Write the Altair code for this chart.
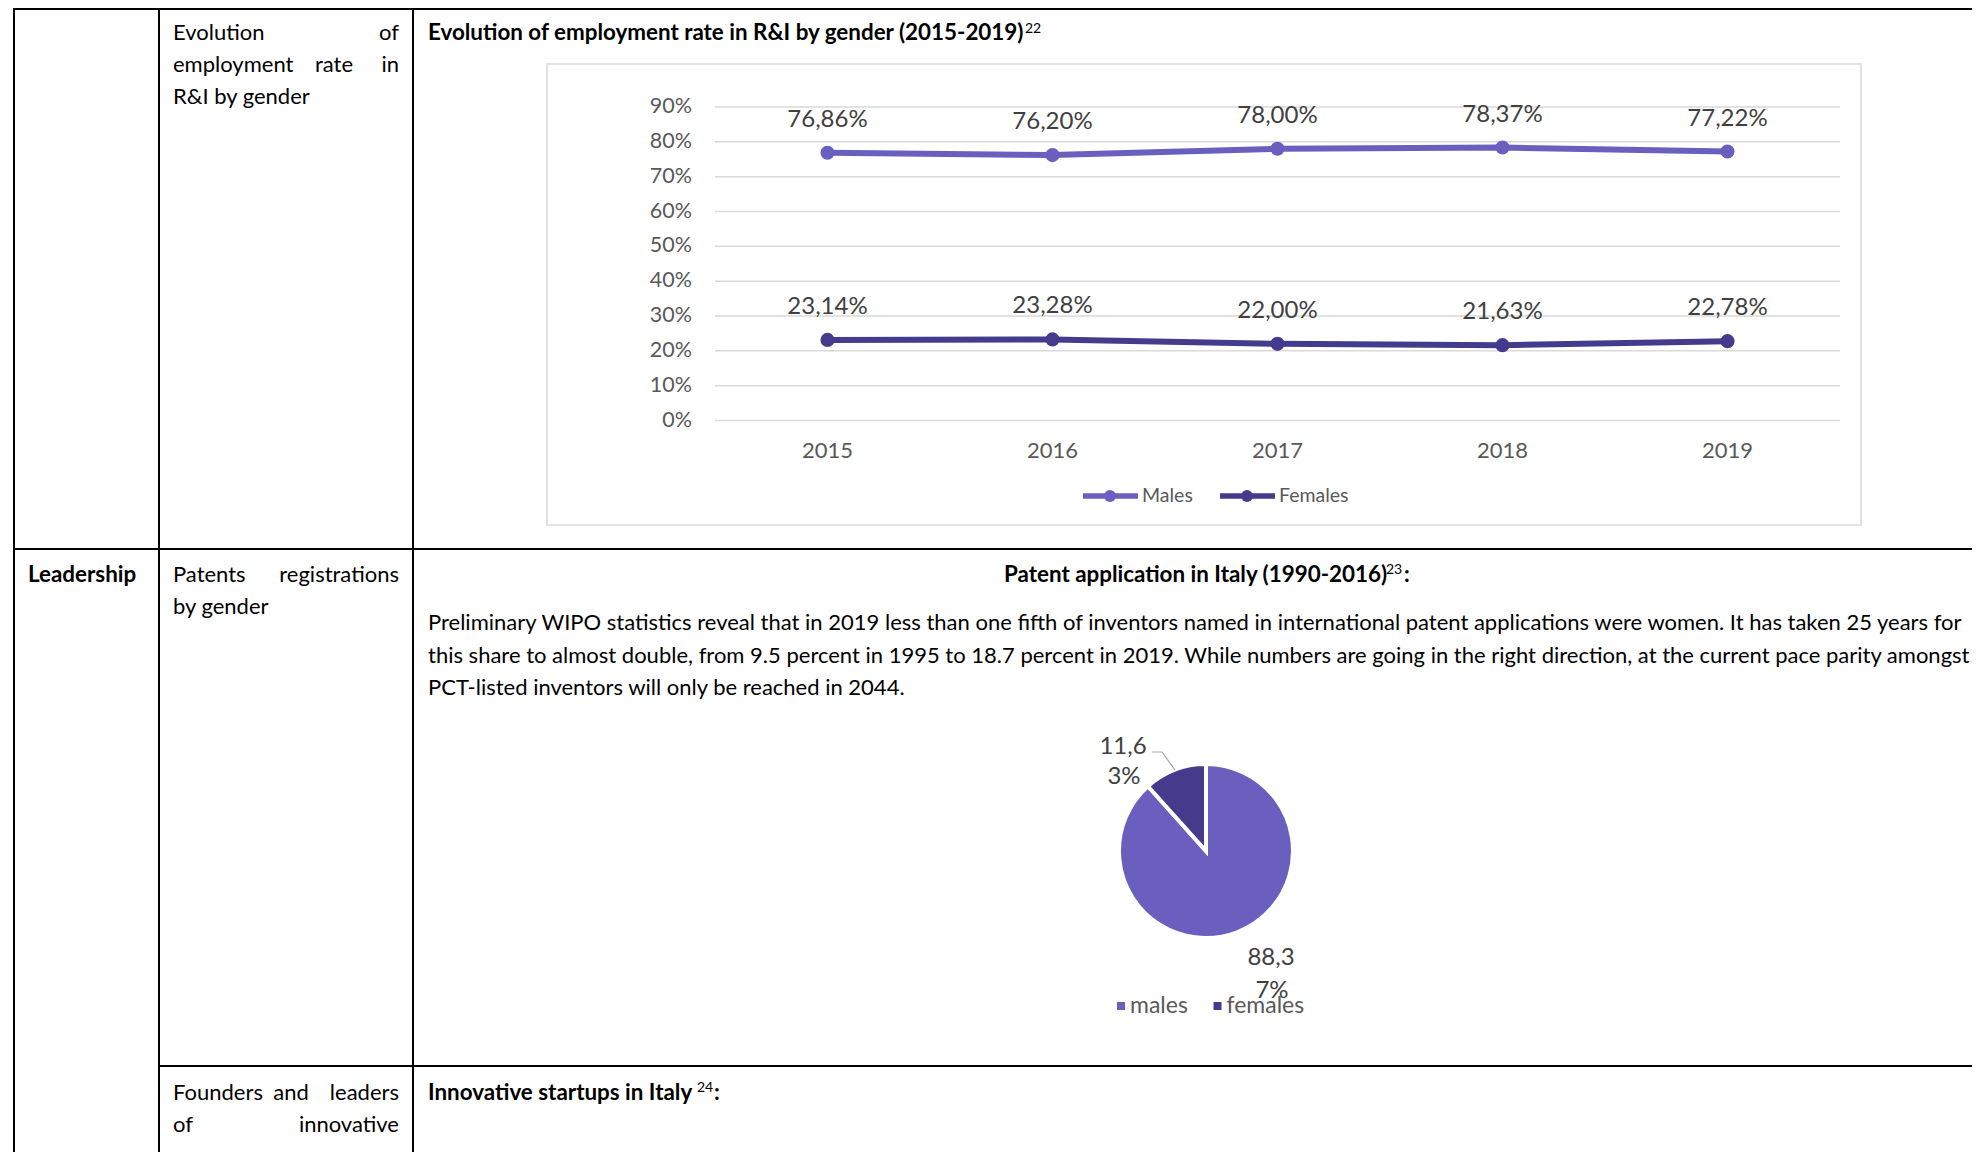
import altair as alt
import pandas as pd

# ---------------- data ----------------
years = ["2015", "2016", "2017", "2018", "2019"]
males = [76.86, 76.20, 78.00, 78.37, 77.22]
females = [23.14, 23.28, 22.00, 21.63, 22.78]
series = ["Males", "Females"]
y_ticks = [0, 10, 20, 30, 40, 50, 60, 70, 80, 90]

pie_cats = ["males", "females"]
pie_vals = [88.37, 11.63]

MALE_C = "#6a5fbf"
FEMALE_C = "#453b8d"
FONT = "Lato"
O = 8  # page margin


def P(v):
    return v - O


def fmt(v):
    return f"{v:.2f}%".replace(".", ",")


rows = []
for s, vals in zip(series, [males, females]):
    for y, v in zip(years, vals):
        rows.append({"year": y, "g": s, "v": v, "lab": fmt(v)})
line_df = pd.DataFrame(rows)
grid_df = pd.DataFrame({"v": y_ticks, "lab": [f"{t}%" for t in y_ticks]})
year_df = pd.DataFrame({"year": years})
pie_df = pd.DataFrame({"g": pie_cats, "val": pie_vals, "o": [0, 1]})

xs = alt.Scale(type="point", domain=years, range=[P(827.5), P(1727.5)], padding=0)
ys = alt.Scale(domain=[0, 90], range=[P(420.5), P(107)], nice=False, zero=True)
cs = alt.Scale(domain=["Males", "Females", "males", "females"],
               range=[MALE_C, FEMALE_C, MALE_C, FEMALE_C])

one = pd.DataFrame({"k": [0]})
layers = []


def hline(y, x1, x2, color="black", w=2):
    return alt.Chart(one).mark_rule(color=color, strokeWidth=w).encode(
        x=alt.value(P(x1)), x2=alt.value(P(x2)), y=alt.value(P(y)))


def vline(x, y1, y2, color="black", w=2):
    return alt.Chart(one).mark_rule(color=color, strokeWidth=w).encode(
        x=alt.value(P(x)), y=alt.value(P(y1)), y2=alt.value(P(y2)))


def txt(s, x, y, size=22, weight="normal", align="left", color="black", baseline="alphabetic"):
    return alt.Chart(one).mark_text(
        text=s, font=FONT, fontSize=size, fontWeight=weight, align=align,
        baseline=baseline, color=color
    ).encode(x=alt.value(P(x)), y=alt.value(P(y)))


# ---------------- table borders ----------------
layers += [
    hline(9, 14, 1990),
    vline(14, 8, 1170),
    vline(159, 8, 1170),
    vline(413, 8, 1170),
    hline(549, 14, 1990),
    hline(1066, 159, 1990),
]

# ---------------- left-column texts ----------------
BODY = 22
BOLD = 22.4
L, R = 173, 399
layers += [
    txt("Evolution", L, 40, BODY),
    txt("of", R, 40, BODY, align="right"),
    txt("employment", L, 72, BODY),
    txt("rate", 334, 72, BODY, align="center"),
    txt("in", R, 72, BODY, align="right"),
    txt("R&I by gender", L, 104, BODY),
    txt("Leadership", 28, 582, BOLD, weight="bold"),
    txt("Patents", L, 582, BODY),
    txt("registrations", R, 582, BODY, align="right"),
    txt("by gender", L, 614, BODY),
    txt("Founders", L, 1100, BODY),
    txt("and", 291, 1100, BODY, align="center"),
    txt("leaders", R, 1100, BODY, align="right"),
    txt("of", L, 1132, BODY),
    txt("innovative", R, 1132, BODY, align="right"),
]

# ---------------- right-column texts ----------------
layers += [
    txt("Evolution of employment rate in R&I by gender (2015-2019)", 428, 40, BOLD, weight="bold"),
    txt("22", 1025, 33, 14),
    txt("Patent application in Italy (1990-2016)", 1004, 582, BOLD, weight="bold"),
    txt("23", 1386, 574, 14),
    txt(":", 1404, 582, BOLD, weight="bold"),
    txt("Preliminary WIPO statistics reveal that in 2019 less than one fifth of inventors named in international patent applications were women. It has taken 25 years for",
        428, 630, BODY),
    txt("this share to almost double, from 9.5 percent in 1995 to 18.7 percent in 2019. While numbers are going in the right direction, at the current pace parity amongst",
        428, 663, BODY),
    txt("PCT-listed inventors will only be reached in 2044.", 428, 695, BODY),
    txt("Innovative startups in Italy", 428, 1100, BOLD, weight="bold"),
    txt("24", 697, 1092, 14),
    txt(":", 714, 1100, BOLD, weight="bold"),
]

# ---------------- line chart ----------------
box = alt.Chart(one).mark_rect(fill="white", stroke="#d9d9d9", strokeWidth=1.5).encode(
    x=alt.value(P(547)), x2=alt.value(P(1861)), y=alt.value(P(64)), y2=alt.value(P(525)))

X = alt.X("year:O", scale=xs, axis=None)
Y = alt.Y("v:Q", scale=ys, axis=None)
C = alt.Color("g:N", scale=cs, legend=None)

grid = alt.Chart(grid_df).mark_rule(color="#d9d9d9", strokeWidth=1.5).encode(
    y=Y, x=alt.value(P(715)), x2=alt.value(P(1840)))
ylabels = alt.Chart(grid_df).mark_text(
    align="right", baseline="middle", font=FONT, fontSize=21.5, color="#595959").encode(
    y=Y, x=alt.value(P(692)), text="lab:N")
xlabels = alt.Chart(year_df).mark_text(
    align="center", baseline="middle", font=FONT, fontSize=22, color="#595959").encode(
    x=X, y=alt.value(P(451)), text="year:N")
lines = alt.Chart(line_df).mark_line(strokeWidth=6).encode(x=X, y=Y, color=C, detail="g:N")
pts = alt.Chart(line_df).mark_circle(size=200, opacity=1).encode(x=X, y=Y, color=C)
vlabels = alt.Chart(line_df).mark_text(
    align="center", baseline="middle", dy=-33, font=FONT, fontSize=24, color="#404040").encode(
    x=X, y=Y, text="lab:N")

layers += [box, grid, ylabels, xlabels, lines, pts, vlabels]

# legend for line chart
for s, col, x0 in zip(series, [MALE_C, FEMALE_C], [1083, 1220]):
    layers += [
        alt.Chart(one).mark_rule(color=col, strokeWidth=5.5).encode(
            x=alt.value(P(x0)), x2=alt.value(P(x0 + 55)), y=alt.value(P(496))),
        alt.Chart(one).mark_circle(color=col, size=140, opacity=1).encode(
            x=alt.value(P(x0 + 27)), y=alt.value(P(496))),
        txt(s, x0 + 59, 496, 19.5, color="#595959", baseline="middle"),
    ]

# ---------------- pie chart ----------------
pie = alt.Chart(pie_df).mark_arc(outerRadius=87, stroke="white", strokeWidth=4).encode(
    theta=alt.Theta("val:Q", stack=True),
    color=C,
    order=alt.Order("o:Q"),
    x=alt.value(P(1206)), y=alt.value(P(851)))
layers.append(pie)

# leader line for the small slice's label
leader = pd.DataFrame({"px": [P(1152), P(1162), P(1175)], "py": [P(752), P(752), P(770)], "i": [0, 1, 2]})
layers.append(alt.Chart(leader).mark_line(color="#a6a6a6", strokeWidth=1.2).encode(
    x=alt.X("px:Q", scale=None), y=alt.Y("py:Q", scale=None), order="i:Q"))

# pie labels (Word wraps them in two lines)
fl = fmt(pie_vals[1])
ml = fmt(pie_vals[0])
layers += [
    txt(fl[:4], 1123, 747, 24, color="#404040", align="center", baseline="middle"),
    txt(fl[4:], 1124, 777, 24, color="#404040", align="center", baseline="middle"),
    txt(ml[:4], 1271, 958, 24, color="#404040", align="center", baseline="middle"),
    txt(ml[4:], 1272, 991, 24, color="#404040", align="center", baseline="middle"),
]
# pie legend
for s, col, x0 in zip(pie_cats, [MALE_C, FEMALE_C], [1121, 1217.5]):
    layers += [
        alt.Chart(one).mark_square(color=col, size=64, opacity=1).encode(
            x=alt.value(P(x0)), y=alt.value(P(1006))),
        txt(s, x0 + 9, 1006, 23, color="#595959", baseline="middle"),
    ]

chart = alt.layer(*layers).properties(
    width=1964, height=1144, autosize="none", padding=0, background="white"
).configure_view(stroke=None)

chart.save("out.html", embed_options={"renderer": "svg", "actions": False})
